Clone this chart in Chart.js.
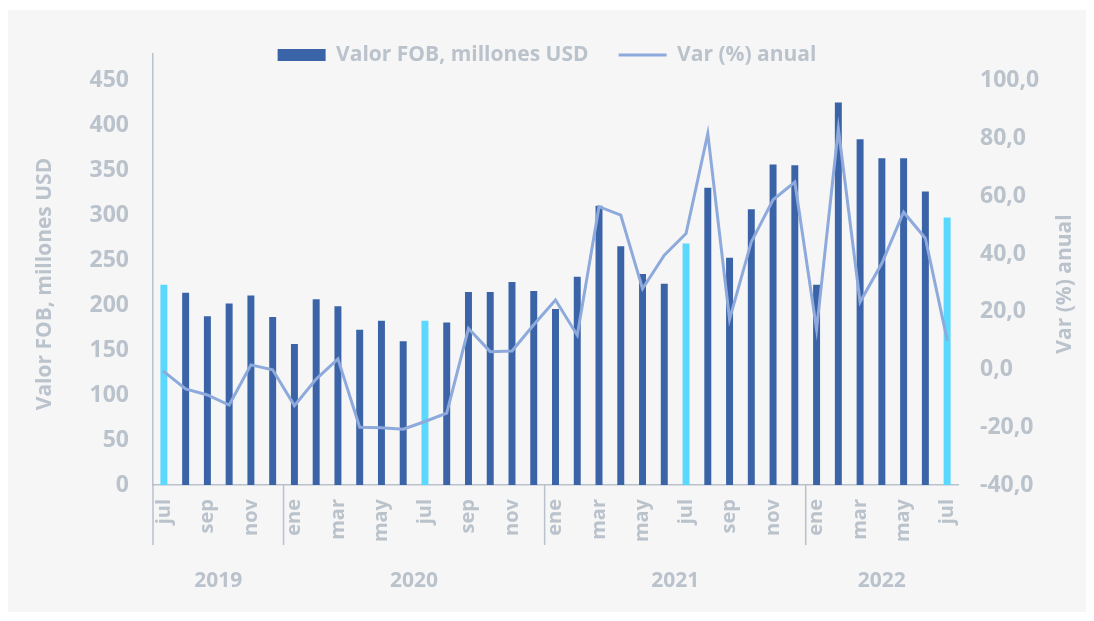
<!DOCTYPE html>
<html>
<head>
<meta charset="utf-8">
<script src="https://cdn.jsdelivr.net/npm/chart.js@4/dist/chart.umd.min.js"></script>
<style>
  html, body { margin: 0; padding: 0; background: #ffffff; }
  #panel { position: absolute; left: 8px; top: 10px; width: 1078px; height: 602px; background: #f6f6f6; }
</style>
</head>
<body>
<div id="panel"><canvas id="chart"></canvas></div>
<script>
// Exportaciones mensuales jul-2019 a jul-2022
const months = ['jul', 'ago', 'sep', 'oct', 'nov', 'dic',
  'ene', 'feb', 'mar', 'abr', 'may', 'jun', 'jul', 'ago', 'sep', 'oct', 'nov', 'dic',
  'ene', 'feb', 'mar', 'abr', 'may', 'jun', 'jul', 'ago', 'sep', 'oct', 'nov', 'dic',
  'ene', 'feb', 'mar', 'abr', 'may', 'jun', 'jul'];
const years = ['2019', '2020', '2021', '2022'];
const valorFOB = [223, 214, 188, 202, 211, 187,
  157, 207, 199, 173, 183, 160, 183, 181, 215, 215, 226, 216,
  196, 232, 311, 266, 235, 224, 269, 331, 253, 307, 357, 356,
  223, 426, 385, 364, 364, 327, 298];
const varAnual = [-0.7, -6.7, -8.8, -12.3, 1.6, -0.1,
  -12.5, -3.3, 3.7, -20.0, -20.2, -20.7, -18.0, -15.1, 14.2, 6.2, 6.4, 15.5,
  24.1, 11.9, 56.4, 53.5, 28.0, 39.6, 47.1, 81.7, 17.4, 44.2, 58.8, 64.9,
  14.0, 83.4, 23.4, 36.8, 54.5, 45.5, 10.3];
const leftTicks = [0, 50, 100, 150, 200, 250, 300, 350, 400, 450];
const rightTicks = [-40, -20, 0, 20, 40, 60, 80, 100];

const darkBlue = '#3b63a7';
const cyan = '#5ad8fd';
const lineBlue = '#8eaadc';
const grey = '#bac2cc';
const axisGrey = '#b9c1cc';
const fam = '"Open Sans", Lato, sans-serif';

const barColors = months.map(m => m === 'jul' ? cyan : darkBlue);

const extras = {
  id: 'extras',
  afterLayout(chart) {
    // leyenda superpuesta al borde superior del área de trazado
    const lg = chart.legend;
    const d = 35 - (lg.top + lg.height / 2);
    lg.top += d;
    lg.bottom += d;
  },
  afterDraw(chart) {
    const ctx = chart.ctx;
    const x = chart.scales.x;
    const area = chart.chartArea;
    ctx.save();
    // separadores de año
    ctx.strokeStyle = axisGrey;
    ctx.lineWidth = 1.5;
    const bounds = [area.left];
    const starts = [0];
    months.forEach((m, i) => {
      if (m === 'ene' && i > 0) {
        bounds.push((x.getPixelForValue(i - 1) + x.getPixelForValue(i)) / 2);
        starts.push(i);
      }
    });
    bounds.forEach(b => {
      ctx.beginPath();
      ctx.moveTo(b, area.bottom);
      ctx.lineTo(b, area.bottom + 60);
      ctx.stroke();
    });
    // etiquetas de año
    ctx.fillStyle = grey;
    ctx.font = 'bold 21px ' + fam;
    ctx.textAlign = 'center';
    ctx.textBaseline = 'middle';
    starts.forEach((s, k) => {
      const e = k + 1 < starts.length ? starts[k + 1] - 1 : months.length - 1;
      const cx = (x.getPixelForValue(s) + x.getPixelForValue(e)) / 2;
      ctx.fillText(years[k], cx, 571);
    });
    // títulos de ejes
    ctx.font = 'bold 21px ' + fam;
    [[37, 'Valor FOB, millones USD'], [1057, 'Var (%) anual']].forEach(([tx, t]) => {
      ctx.save();
      ctx.translate(tx, 274);
      ctx.rotate(-Math.PI / 2);
      ctx.fillText(t, 0, 0);
      ctx.restore();
    });
    ctx.restore();
  }
};

new Chart(document.getElementById('chart').getContext('2d'), {
  data: {
    labels: months,
    datasets: [
      {
        type: 'bar',
        label: 'Valor FOB, millones USD',
        data: valorFOB,
        backgroundColor: barColors,
        categoryPercentage: 1,
        barPercentage: 0.32,
        yAxisID: 'y',
        order: 1
      },
      {
        type: 'line',
        label: 'Var (%) anual',
        data: varAnual,
        borderColor: lineBlue,
        borderWidth: 3,
        borderCapStyle: 'round',
        pointRadius: 0,
        tension: 0,
        yAxisID: 'y1',
        order: 0
      }
    ]
  },
  options: {
    responsive: true,
    maintainAspectRatio: false,
    animation: false,
    layout: { padding: { top: -17, left: 0, right: 0, bottom: 0 } },
    plugins: {
      tooltip: { enabled: false },
      legend: {
        position: 'top',
        labels: {
          usePointStyle: true,
          pointStyleWidth: 48,
          boxHeight: 12,
          padding: 30,
          color: grey,
          font: { family: fam, size: 21, weight: 'bold' },
          generateLabels(chart) {
            const items = Chart.defaults.plugins.legend.labels.generateLabels(chart);
            items.forEach(it => {
              if (it.datasetIndex === 0) {
                it.pointStyle = 'rect';
                it.fillStyle = darkBlue;
                it.strokeStyle = darkBlue;
                it.lineWidth = 0;
              } else {
                it.pointStyle = 'line';
                it.strokeStyle = lineBlue;
                it.lineWidth = 3;
              }
            });
            return items.sort((a, b) => a.datasetIndex - b.datasetIndex);
          }
        }
      }
    },
    scales: {
      x: {
        grid: { display: false, drawTicks: false },
        border: { display: true, color: axisGrey, width: 1.5 },
        ticks: {
          autoSkip: false,
          minRotation: 90,
          maxRotation: 90,
          padding: 14,
          color: grey,
          font: { family: fam, size: 20, weight: 'bold' },
          callback: (v, i) => i % 2 === 0 ? months[i] : ''
        },
        afterFit(s) { s.height = 127; }
      },
      y: {
        position: 'left',
        min: 0,
        max: 480,
        grid: { display: false, drawTicks: false },
        border: { display: true, color: axisGrey, width: 1.5 },
        afterBuildTicks(s) { s.ticks = leftTicks.map(v => ({ value: v })); },
        ticks: {
          padding: 24,
          color: grey,
          font: { family: fam, size: 23, weight: 'bold' }
        },
        afterFit(s) { s.width = 145; }
      },
      y1: {
        position: 'right',
        min: -40,
        max: 109.3,
        grid: { display: false, drawTicks: false },
        border: { display: false },
        afterBuildTicks(s) { s.ticks = rightTicks.map(v => ({ value: v })); },
        ticks: {
          padding: 22,
          color: grey,
          font: { family: fam, size: 23, weight: 'bold' },
          callback: v => v.toFixed(1).replace('.', ',')
        },
        afterFit(s) { s.width = 128; }
      }
    }
  },
  plugins: [extras]
});
</script>
</body>
</html>
